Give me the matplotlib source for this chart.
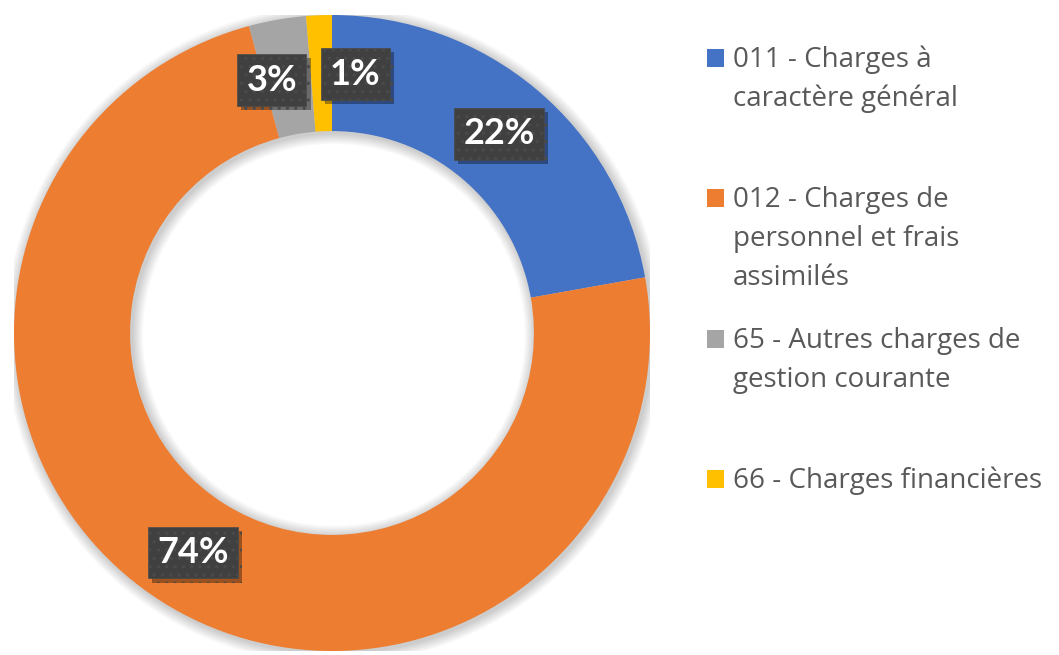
import matplotlib.pyplot as plt
import matplotlib.patheffects as pe
from matplotlib.patches import Wedge, Rectangle
import numpy as np

plt.rcParams['font.family'] = ['Open Sans', 'DejaVu Sans']
plt.rcParams['hatch.linewidth'] = 1.2

# Répartition des charges de fonctionnement (%)
categories = ['011 - Charges à\ncaractère général',
              '012 - Charges de\npersonnel et frais\nassimilés',
              '65 - Autres charges de\ngestion courante',
              '66 - Charges financières']
values = [22.2, 73.6, 2.9, 1.3]
colors = ['#4472C4', '#ED7D31', '#A5A5A5', '#FFC000']

W, H = 1059, 655
fig = plt.figure(figsize=(W / 100, H / 100), dpi=100)

# anneau : centre et rayon en pixels
cx, cy, R = 332, 333, 318
ring = 0.365
ax = fig.add_axes([(cx - R) / W, (H - cy - R) / H, 2 * R / W, 2 * R / H])

# ombre douce sous l'anneau
for d in np.linspace(0.004, 0.035, 10):
    ax.add_patch(Wedge((0.006, -0.006), 1 + d, 0, 360, width=ring + 2 * d,
                       facecolor='black', edgecolor='none', alpha=0.018))

wedges, _ = ax.pie(values, colors=colors, startangle=90, counterclock=False,
                   radius=1, wedgeprops=dict(width=ring, linewidth=0))
ax.set_xlim(-1, 1)
ax.set_ylim(-1, 1)
ax.set_aspect('equal')
ax.axis('off')

# décalage angulaire des petites étiquettes pour éviter le chevauchement
shift = [0, 0, 3.5, -7.5]
r_lab = 1 - ring / 2
for w, v, s in zip(wedges, values, shift):
    a = np.deg2rad((w.theta1 + w.theta2) / 2 + s)
    t = ax.text(r_lab * np.cos(a), r_lab * np.sin(a), f'{v:.0f}%',
                ha='center', va='center', color='white', fontsize=26,
                fontweight='bold', family=['Lato', 'DejaVu Sans'],
                bbox=dict(boxstyle='square,pad=0.26', facecolor='#404040',
                          edgecolor='#4a4a4a', linewidth=0.5, hatch='..'))
    t.get_bbox_patch().set_path_effects([
        pe.SimplePatchShadow(offset=(3, -3), shadow_rgbFace='black', alpha=0.35),
        pe.Normal()])

# légende à droite
x_sq, x_txt = 707, 733
base0, step, lh = 67, 140.3, 39
for i, (lab, c) in enumerate(zip(categories, colors)):
    base = base0 + i * step
    fig.add_artist(Rectangle((x_sq / W, (H - base) / H), 17 / W, 18 / H,
                             transform=fig.transFigure, facecolor=c,
                             edgecolor='none'))
    for j, line in enumerate(lab.split('\n')):
        fig.text(x_txt / W, (H - base - j * lh) / H, line, ha='left',
                 va='baseline', fontsize=20, color='#595959')

fig.savefig('out.png', dpi=100)
